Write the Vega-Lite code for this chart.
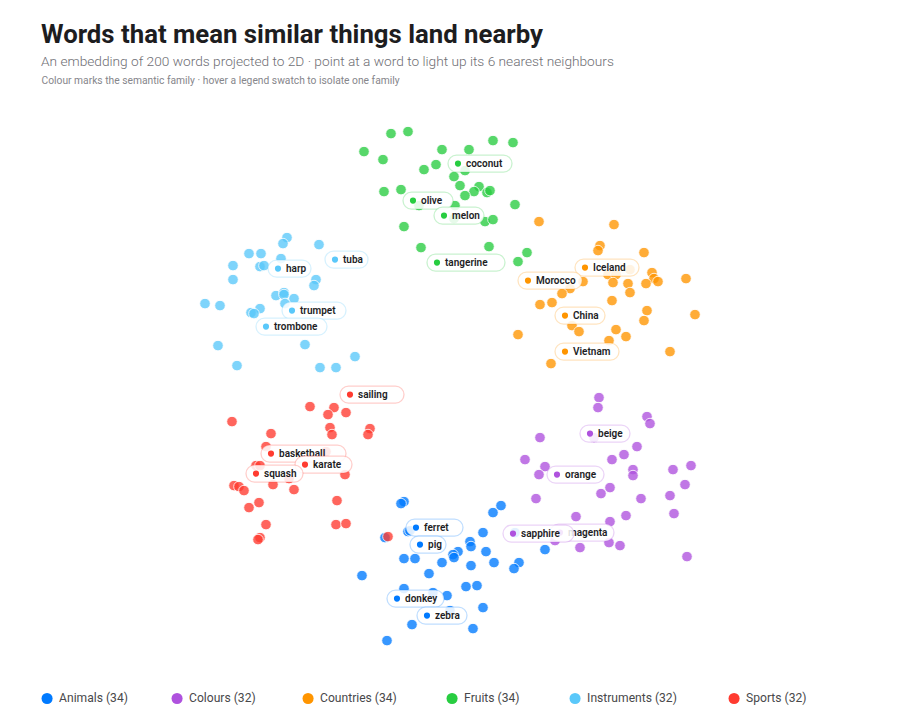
{"$schema":"https://vega.github.io/schema/vega-lite/v6.json","width":900,"height":720,"padding":0,"autosize":{"type":"none"},"background":"#ffffff","config":{"view":{"stroke":null},"font":"Roboto"},
"title":{"text":"Words that mean similar things land nearby","subtitle":"An embedding of 200 words projected to 2D · point at a word to light up its 6 nearest neighbours","anchor":"start","frame":"group","orient":"top","baseline":"top","dx":41,"dy":70,"offset":0,"font":"Roboto","fontSize":25.75,"fontWeight":700,"color":"#1d1d1f","subtitleFont":"Roboto","subtitleFontSize":13.7,"subtitleFontWeight":300,"subtitleColor":"#6e6e73","subtitlePadding":7},
"data":{"values":[
{"x":36.4,"y":15.1,"family":"Fruits"},{"x":39.1,"y":13.3,"family":"Fruits"},{"x":40.8,"y":13.1,"family":"Fruits"},{"x":38.3,"y":15.9,"family":"Fruits"},{"x":44.2,"y":14.9,"family":"Fruits"},{"x":46.9,"y":14.9,"family":"Fruits"},{"x":49.3,"y":14.0,"family":"Fruits"},{"x":51.3,"y":14.2,"family":"Fruits"},{"x":42.4,"y":16.9,"family":"Fruits"},{"x":43.6,"y":16.4,"family":"Fruits"},{"x":45.4,"y":17.6,"family":"Fruits"},{"x":46.5,"y":17.0,"family":"Fruits"},{"x":46.0,"y":18.5,"family":"Fruits"},{"x":47.9,"y":18.6,"family":"Fruits"},{"x":47.4,"y":19.1,"family":"Fruits"},{"x":46.5,"y":19.5,"family":"Fruits"},{"x":48.7,"y":19.2,"family":"Fruits"},{"x":49.0,"y":19.0,"family":"Fruits"},{"x":38.4,"y":19.1,"family":"Fruits"},{"x":40.1,"y":18.9,"family":"Fruits"},{"x":41.9,"y":20.5,"family":"Fruits"},{"x":45.5,"y":20.5,"family":"Fruits"},{"x":45.4,"y":21.8,"family":"Fruits"},{"x":48.5,"y":22.1,"family":"Fruits"},{"x":49.3,"y":21.9,"family":"Fruits"},{"x":51.5,"y":20.4,"family":"Fruits"},{"x":40.4,"y":22.6,"family":"Fruits"},{"x":42.1,"y":24.7,"family":"Fruits"},{"x":48.9,"y":24.6,"family":"Fruits"},{"x":52.7,"y":25.2,"family":"Fruits"},{"x":51.8,"y":26.1,"family":"Fruits"},
{"x":45.8,"y":16.3,"family":"Fruits","word":"coconut"},{"x":41.3,"y":20.0,"family":"Fruits","word":"olive"},{"x":44.4,"y":21.5,"family":"Fruits","word":"melon"},{"x":43.7,"y":26.2,"family":"Fruits","word":"tangerine"},
{"x":53.9,"y":22.1,"family":"Countries"},{"x":61.4,"y":22.4,"family":"Countries"},{"x":60.0,"y":24.5,"family":"Countries"},{"x":59.8,"y":25.0,"family":"Countries"},{"x":64.4,"y":25.2,"family":"Countries"},{"x":65.2,"y":27.2,"family":"Countries"},{"x":65.4,"y":27.8,"family":"Countries"},{"x":65.8,"y":28.1,"family":"Countries"},{"x":68.6,"y":27.8,"family":"Countries"},{"x":60.8,"y":27.4,"family":"Countries"},{"x":61.6,"y":27.4,"family":"Countries"},{"x":63.0,"y":26.9,"family":"Countries"},{"x":61.3,"y":28.2,"family":"Countries"},{"x":62.8,"y":28.3,"family":"Countries"},{"x":64.6,"y":28.3,"family":"Countries"},{"x":63.0,"y":29.2,"family":"Countries"},{"x":58.3,"y":28.1,"family":"Countries"},{"x":57.0,"y":28.8,"family":"Countries"},{"x":56.2,"y":29.3,"family":"Countries"},{"x":54.0,"y":30.4,"family":"Countries"},{"x":55.2,"y":30.2,"family":"Countries"},{"x":61.2,"y":30.0,"family":"Countries"},{"x":64.7,"y":31.0,"family":"Countries"},{"x":64.4,"y":32.0,"family":"Countries"},{"x":69.5,"y":31.4,"family":"Countries"},{"x":51.8,"y":33.4,"family":"Countries"},{"x":57.2,"y":32.5,"family":"Countries"},{"x":57.9,"y":33.1,"family":"Countries"},{"x":61.6,"y":32.9,"family":"Countries"},{"x":62.6,"y":33.6,"family":"Countries"},{"x":60.9,"y":34.0,"family":"Countries"},{"x":67.0,"y":35.1,"family":"Countries"},{"x":55.1,"y":36.3,"family":"Countries"},
{"x":58.5,"y":26.7,"family":"Countries","word":"Iceland"},{"x":52.8,"y":28.0,"family":"Countries","word":"Morocco"},{"x":56.5,"y":31.5,"family":"Countries","word":"China"},{"x":56.5,"y":35.1,"family":"Countries","word":"Vietnam"},
{"x":28.7,"y":23.7,"family":"Instruments"},{"x":28.3,"y":24.3,"family":"Instruments"},{"x":31.9,"y":24.4,"family":"Instruments"},{"x":24.9,"y":25.3,"family":"Instruments"},{"x":26.1,"y":25.3,"family":"Instruments"},{"x":28.1,"y":25.8,"family":"Instruments"},{"x":26.0,"y":26.6,"family":"Instruments"},{"x":26.4,"y":26.5,"family":"Instruments"},{"x":23.3,"y":26.5,"family":"Instruments"},{"x":23.3,"y":27.9,"family":"Instruments"},{"x":31.6,"y":27.9,"family":"Instruments"},{"x":31.4,"y":28.5,"family":"Instruments"},{"x":20.5,"y":30.3,"family":"Instruments"},{"x":22.0,"y":30.5,"family":"Instruments"},{"x":27.6,"y":29.5,"family":"Instruments"},{"x":28.4,"y":29.2,"family":"Instruments"},{"x":29.4,"y":29.8,"family":"Instruments"},{"x":28.4,"y":29.4,"family":"Instruments"},{"x":26.0,"y":30.8,"family":"Instruments"},{"x":25.1,"y":31.2,"family":"Instruments"},{"x":25.4,"y":31.3,"family":"Instruments"},{"x":30.5,"y":34.4,"family":"Instruments"},{"x":21.8,"y":34.5,"family":"Instruments"},{"x":35.5,"y":35.6,"family":"Instruments"},{"x":23.7,"y":36.5,"family":"Instruments"},{"x":32.0,"y":36.7,"family":"Instruments"},{"x":33.6,"y":36.7,"family":"Instruments"},{"x":28.5,"y":30.3,"family":"Instruments"},
{"x":27.8,"y":26.8,"family":"Instruments","word":"harp"},{"x":33.5,"y":25.9,"family":"Instruments","word":"tuba"},{"x":29.2,"y":31.0,"family":"Instruments","word":"trumpet"},{"x":26.6,"y":32.6,"family":"Instruments","word":"trombone"},
{"x":31.0,"y":40.6,"family":"Sports"},{"x":33.4,"y":40.7,"family":"Sports"},{"x":32.8,"y":41.4,"family":"Sports"},{"x":34.6,"y":41.2,"family":"Sports"},{"x":23.2,"y":42.1,"family":"Sports"},{"x":27.1,"y":43.3,"family":"Sports"},{"x":33.0,"y":42.7,"family":"Sports"},{"x":33.2,"y":43.4,"family":"Sports"},{"x":37.0,"y":42.8,"family":"Sports"},{"x":36.8,"y":43.4,"family":"Sports"},{"x":26.6,"y":44.6,"family":"Sports"},{"x":32.6,"y":45.1,"family":"Sports"},{"x":25.6,"y":46.5,"family":"Sports"},{"x":26.0,"y":46.5,"family":"Sports"},{"x":34.5,"y":47.4,"family":"Sports"},{"x":28.9,"y":47.8,"family":"Sports"},{"x":23.4,"y":48.5,"family":"Sports"},{"x":23.9,"y":48.6,"family":"Sports"},{"x":24.4,"y":49.0,"family":"Sports"},{"x":27.3,"y":48.4,"family":"Sports"},{"x":29.4,"y":48.9,"family":"Sports"},{"x":33.7,"y":50.0,"family":"Sports"},{"x":25.9,"y":50.2,"family":"Sports"},{"x":24.9,"y":50.7,"family":"Sports"},{"x":26.6,"y":52.4,"family":"Sports"},{"x":33.6,"y":52.4,"family":"Sports"},{"x":34.6,"y":52.3,"family":"Sports"},{"x":26.0,"y":53.7,"family":"Sports"},{"x":25.8,"y":53.9,"family":"Sports"},
{"x":35.0,"y":39.4,"family":"Sports","word":"sailing"},{"x":27.1,"y":45.3,"family":"Sports","word":"basketball"},{"x":30.5,"y":46.4,"family":"Sports","word":"karate"},{"x":25.6,"y":47.3,"family":"Sports","word":"squash"},
{"x":40.4,"y":50.1,"family":"Animals"},{"x":40.1,"y":50.3,"family":"Animals"},{"x":50.1,"y":50.5,"family":"Animals"},{"x":49.3,"y":51.2,"family":"Animals"},{"x":40.8,"y":53.1,"family":"Animals"},{"x":41.0,"y":53.0,"family":"Animals"},{"x":48.3,"y":53.2,"family":"Animals"},{"x":38.5,"y":53.7,"family":"Animals"},{"x":47.0,"y":54.1,"family":"Animals"},{"x":47.1,"y":54.6,"family":"Animals"},{"x":45.8,"y":55.1,"family":"Animals"},{"x":45.3,"y":55.4,"family":"Animals"},{"x":45.4,"y":55.7,"family":"Animals"},{"x":48.6,"y":55.1,"family":"Animals"},{"x":40.4,"y":55.8,"family":"Animals"},{"x":41.5,"y":55.8,"family":"Animals"},{"x":44.2,"y":56.2,"family":"Animals"},{"x":49.4,"y":56.2,"family":"Animals"},{"x":47.1,"y":56.5,"family":"Animals"},{"x":51.9,"y":56.2,"family":"Animals"},{"x":51.4,"y":56.8,"family":"Animals"},{"x":54.5,"y":54.9,"family":"Animals"},{"x":36.2,"y":57.5,"family":"Animals"},{"x":42.9,"y":57.3,"family":"Animals"},{"x":46.6,"y":58.6,"family":"Animals"},{"x":47.7,"y":58.5,"family":"Animals"},{"x":40.4,"y":58.8,"family":"Animals"},{"x":43.3,"y":59.2,"family":"Animals"},{"x":44.7,"y":59.5,"family":"Animals"},{"x":48.3,"y":60.7,"family":"Animals"},{"x":41.2,"y":62.4,"family":"Animals"},{"x":47.3,"y":62.8,"family":"Animals"},{"x":38.7,"y":64.0,"family":"Animals"},{"x":45.0,"y":61.0,"family":"Animals"},{"x":51.5,"y":53.2,"family":"Animals"},
{"x":38.8,"y":53.6,"family":"Sports"},
{"x":41.6,"y":52.7,"family":"Animals","word":"ferret"},{"x":42.0,"y":54.4,"family":"Animals","word":"pig"},{"x":39.7,"y":59.8,"family":"Animals","word":"donkey"},{"x":42.7,"y":61.5,"family":"Animals","word":"zebra"},
{"x":59.9,"y":39.7,"family":"Colours"},{"x":59.8,"y":40.7,"family":"Colours"},{"x":64.7,"y":41.6,"family":"Colours"},{"x":65.0,"y":42.3,"family":"Colours"},{"x":54.0,"y":43.7,"family":"Colours"},{"x":59.4,"y":43.7,"family":"Colours"},{"x":63.7,"y":44.6,"family":"Colours"},{"x":62.4,"y":45.4,"family":"Colours"},{"x":61.2,"y":45.9,"family":"Colours"},{"x":52.5,"y":45.9,"family":"Colours"},{"x":54.5,"y":46.6,"family":"Colours"},{"x":53.9,"y":47.4,"family":"Colours"},{"x":63.3,"y":46.9,"family":"Colours"},{"x":63.3,"y":47.5,"family":"Colours"},{"x":67.3,"y":46.9,"family":"Colours"},{"x":69.1,"y":46.5,"family":"Colours"},{"x":68.5,"y":48.4,"family":"Colours"},{"x":61.0,"y":48.7,"family":"Colours"},{"x":60.1,"y":49.3,"family":"Colours"},{"x":64.1,"y":49.8,"family":"Colours"},{"x":67.0,"y":49.5,"family":"Colours"},{"x":53.6,"y":49.8,"family":"Colours"},{"x":57.6,"y":51.6,"family":"Colours"},{"x":62.6,"y":51.5,"family":"Colours"},{"x":67.4,"y":51.3,"family":"Colours"},{"x":61.0,"y":52.1,"family":"Colours"},{"x":60.9,"y":54.2,"family":"Colours"},{"x":62.0,"y":54.5,"family":"Colours"},{"x":58.0,"y":54.7,"family":"Colours"},{"x":55.5,"y":54.0,"family":"Colours"},{"x":68.7,"y":55.6,"family":"Colours"},
{"x":59.0,"y":43.3,"family":"Colours","word":"beige"},{"x":55.7,"y":47.4,"family":"Colours","word":"orange"},{"x":56.0,"y":53.2,"family":"Colours","word":"magenta"},{"x":51.3,"y":53.3,"family":"Colours","word":"sapphire"}
]},
"encoding":{
"x":{"field":"x","type":"quantitative","scale":{"domain":[0,90],"nice":false,"zero":false},"axis":{"orient":"top","domain":false,"ticks":false,"labels":false,"grid":false,"title":"Colour marks the semantic family · hover a legend swatch to isolate one family","titleFont":"Roboto","titleFontSize":10.27,"titleFontWeight":400,"titleColor":"#86868b","titleAnchor":"start","titleAlign":"left","titleBaseline":"alphabetic","titleX":41,"titleY":83}},
"y":{"field":"y","type":"quantitative","scale":{"domain":[71.94,-0.06],"nice":false,"zero":false},"axis":null}
},
"layer":[
{"transform":[{"filter":"!datum.word"}],"mark":{"type":"circle","size":113,"opacity":0.78,"stroke":"#ffffff","strokeWidth":1},
"encoding":{"color":{"field":"family","type":"nominal","scale":{"domain":["Animals","Colours","Countries","Fruits","Instruments","Sports"],"range":["#007AFF","#AF52DE","#FF9500","#28CD41","#5AC8FA","#FF3B30"]},"legend":{"orient":"none","legendX":41,"legendY":692,"direction":"horizontal","columns":6,"title":null,"symbolType":"circle","symbolSize":123,"symbolOpacity":1,"symbolStrokeWidth":0,"labelFont":"Roboto","labelFontSize":12.1,"labelColor":"#48484a","labelOffset":6,"columnPadding":43,"labelExpr":"datum.label + {'Animals':' (34)','Colours':' (32)\u2009\u200b','Countries':' (34)\u2002\u200b','Fruits':' (34)\u2002\u200b','Instruments':' (32)\u2002\u200a\u200b','Sports':' (32)'}[datum.label]"}}}},
{"transform":[{"filter":{"field":"word","oneOf":["basketball","magenta"]}}],"mark":{"type":"rect","fill":"#ffffff","fillOpacity":0.86,"strokeOpacity":0.25,"strokeWidth":1.3,"cornerRadius":8.5,"xOffset":-10,"x2Offset":{"expr":"5+7*length(datum.word)"},"yOffset":-8.5,"y2Offset":8.5},
"encoding":{"x2":{"field":"x"},"y2":{"field":"y"},"stroke":{"field":"family","type":"nominal","scale":{"domain":["Animals","Colours","Countries","Fruits","Instruments","Sports"],"range":["#007AFF","#AF52DE","#FF9500","#28CD41","#5AC8FA","#FF3B30"]},"legend":null}}},
{"transform":[{"filter":{"field":"word","oneOf":["basketball","magenta"]}}],"mark":{"type":"circle","size":38,"opacity":1},
"encoding":{"color":{"field":"family","type":"nominal","legend":null}}},
{"transform":[{"filter":{"field":"word","oneOf":["basketball","magenta"]}}],"mark":{"type":"text","align":"left","baseline":"middle","dx":8,"font":"Roboto","fontSize":10,"fontWeight":600,"color":"#1d1d1f"},
"encoding":{"text":{"field":"word"}}},
{"transform":[{"filter":"datum.word && datum.word!='basketball' && datum.word!='magenta'"}],"mark":{"type":"rect","fill":"#ffffff","fillOpacity":0.86,"strokeOpacity":0.25,"strokeWidth":1.3,"cornerRadius":8.5,"xOffset":-10,"x2Offset":{"expr":"5+7*length(datum.word)"},"yOffset":-8.5,"y2Offset":8.5},
"encoding":{"x2":{"field":"x"},"y2":{"field":"y"},"stroke":{"field":"family","type":"nominal","scale":{"domain":["Animals","Colours","Countries","Fruits","Instruments","Sports"],"range":["#007AFF","#AF52DE","#FF9500","#28CD41","#5AC8FA","#FF3B30"]},"legend":null}}},
{"transform":[{"filter":"datum.word && datum.word!='basketball' && datum.word!='magenta'"}],"mark":{"type":"circle","size":38,"opacity":1},
"encoding":{"color":{"field":"family","type":"nominal","legend":null}}},
{"transform":[{"filter":"datum.word && datum.word!='basketball' && datum.word!='magenta'"}],"mark":{"type":"text","align":"left","baseline":"middle","dx":8,"font":"Roboto","fontSize":10,"fontWeight":600,"color":"#1d1d1f"},
"encoding":{"text":{"field":"word"}}}
]}
